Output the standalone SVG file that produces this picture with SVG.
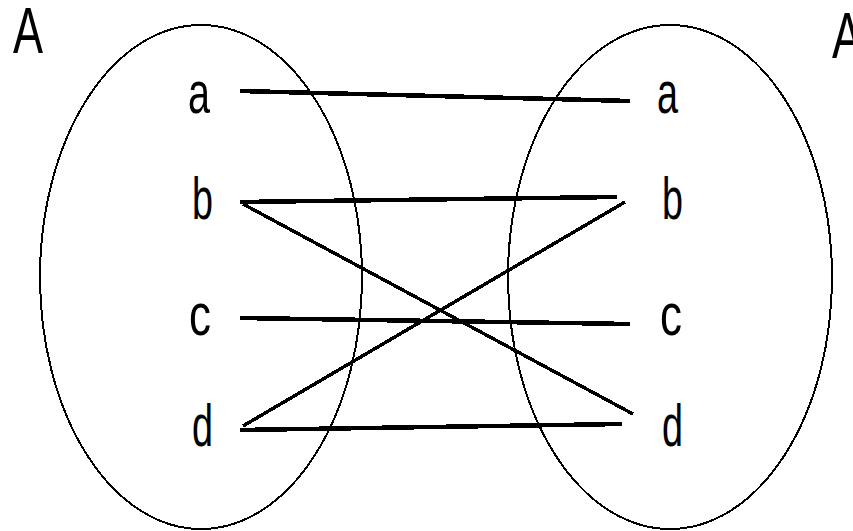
<svg xmlns="http://www.w3.org/2000/svg" width="853" height="531" viewBox="0 0 853 531">
<style>
.set{fill:none;stroke:#000;stroke-width:2;shape-rendering:crispEdges}
.lbl{font-family:"Liberation Sans",Arial,sans-serif;font-size:60px;fill:#000}
.big{font-family:"Liberation Sans",Arial,sans-serif;font-size:64px;fill:#000}
.h{stroke:#000;stroke-width:4.5;fill:none;shape-rendering:crispEdges}
.d{stroke:#000;stroke-width:3.5;fill:none;shape-rendering:crispEdges}
</style>
<rect width="853" height="531" fill="#fff"/>
<g id="setLeft">
<ellipse class="set" cx="201" cy="277" rx="161" ry="252"/>
<text class="big" x="13" y="53" textLength="30" lengthAdjust="spacingAndGlyphs">A</text>
</g>
<g id="setRight">
<ellipse class="set" cx="670" cy="277" rx="162" ry="252"/>
<text class="big" x="832" y="58" textLength="30" lengthAdjust="spacingAndGlyphs">A</text>
</g>
<g id="left-a"><text class="lbl" x="188" y="113" textLength="22" lengthAdjust="spacingAndGlyphs">a</text></g>
<g id="left-b"><text class="lbl" x="192" y="219" textLength="21" lengthAdjust="spacingAndGlyphs">b</text></g>
<g id="left-c"><text class="lbl" x="189" y="335" textLength="22" lengthAdjust="spacingAndGlyphs">c</text></g>
<g id="left-d"><text class="lbl" x="192" y="446" textLength="21" lengthAdjust="spacingAndGlyphs">d</text></g>
<g id="right-a"><text class="lbl" x="657" y="113" textLength="21" lengthAdjust="spacingAndGlyphs">a</text></g>
<g id="right-b"><text class="lbl" x="662" y="219" textLength="21" lengthAdjust="spacingAndGlyphs">b</text></g>
<g id="right-c"><text class="lbl" x="660" y="335" textLength="22" lengthAdjust="spacingAndGlyphs">c</text></g>
<g id="right-d"><text class="lbl" x="662" y="446" textLength="21" lengthAdjust="spacingAndGlyphs">d</text></g>
<g id="connectors">
<line class="h" x1="240" y1="91" x2="630" y2="101"/>
<line class="h" x1="240" y1="202" x2="617" y2="197"/>
<line class="h" x1="240" y1="318" x2="630" y2="324"/>
<line class="h" x1="240" y1="430" x2="622" y2="424"/>
<line class="d" x1="243" y1="204" x2="633" y2="414"/>
<line class="d" x1="243" y1="426" x2="625" y2="202"/>
</g>
</svg>
